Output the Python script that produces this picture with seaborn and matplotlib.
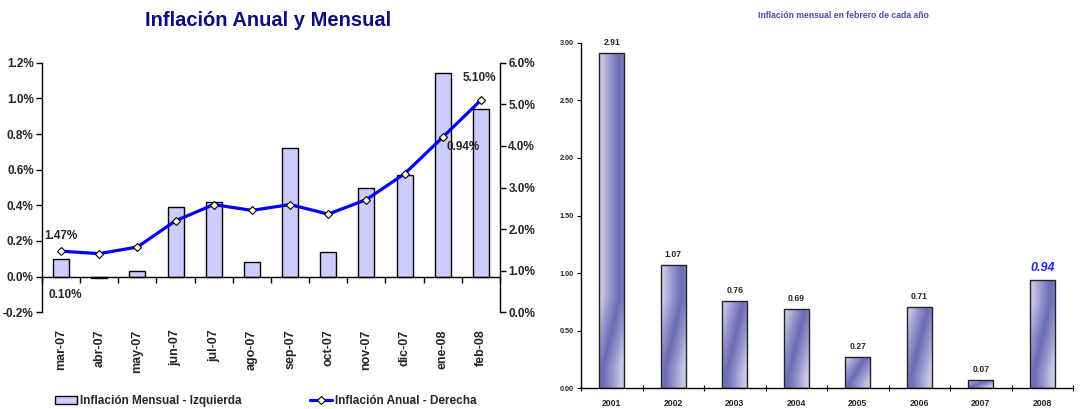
import numpy as np
import pandas as pd
import matplotlib
matplotlib.use("Agg")
import matplotlib.pyplot as plt
from matplotlib import font_manager
from matplotlib.colors import LinearSegmentedColormap
from matplotlib.lines import Line2D
from matplotlib.patches import Patch
import seaborn as sns

# ---------------- data ----------------
months = ["mar-07", "abr-07", "may-07", "jun-07", "jul-07", "ago-07",
          "sep-07", "oct-07", "nov-07", "dic-07", "ene-08", "feb-08"]
mensual = [0.10, -0.01, 0.03, 0.39, 0.42, 0.08, 0.72, 0.14, 0.50, 0.57, 1.14, 0.94]
anual = [1.47, 1.41, 1.57, 2.20, 2.59, 2.45, 2.59, 2.36, 2.71, 3.33, 4.21, 5.10]

years = ["2001", "2002", "2003", "2004", "2005", "2006", "2007", "2008"]
feb_values = [2.91, 1.07, 0.76, 0.69, 0.27, 0.71, 0.07, 0.94]

left_yticks = [-0.2, 0.0, 0.2, 0.4, 0.6, 0.8, 1.0, 1.2]
right_yticks = [0.0, 1.0, 2.0, 3.0, 4.0, 5.0, 6.0]
feb_yticks = [0.0, 0.5, 1.0, 1.5, 2.0, 2.5, 3.0]

title_left = "Inflación Anual y Mensual"
title_right = "Inflación mensual en febrero de cada año"
legend_bar = "Inflación Mensual - Izquierda"
legend_line = "Inflación Anual - Derecha"

# ---------------- style ----------------
sns.set_theme(style="white")
available = {f.name for f in font_manager.fontManager.ttflist}
fam = "Liberation Sans Narrow" if "Liberation Sans Narrow" in available else "Liberation Sans"
plt.rcParams["font.family"] = [fam, "DejaVu Sans"]
plt.rcParams["font.weight"] = "bold"
plt.rcParams["axes.unicode_minus"] = False

FS = 8.5
W, H = 1082, 409
fig = plt.figure(figsize=(W / 100, H / 100), dpi=100)

# ---------------- left chart ----------------
ax = fig.add_axes([0.0388, 0.2364, 0.4233, 0.6103])
df = pd.DataFrame({"mes": months, "mensual": mensual, "anual": anual})
sns.barplot(data=df, x="mes", y="mensual", ax=ax, color="#CCCCFF",
            saturation=1, edgecolor="black", linewidth=1.0, width=0.42, zorder=2)
ax.set_xlim(-0.5, len(months) - 0.5)
ax.set_ylim(left_yticks[0], left_yticks[-1])
ax.set_yticks(left_yticks)
ax.set_yticklabels([f"{v:.1f}%" for v in left_yticks], fontsize=FS, fontweight="bold")
ax.set_xlabel("")
ax.set_ylabel("")
for s in ["top", "right"]:
    ax.spines[s].set_visible(False)
ax.spines["left"].set_color("black")
ax.spines["left"].set_linewidth(1.0)
ax.spines["bottom"].set_position(("data", 0))
ax.spines["bottom"].set_color("black")
ax.spines["bottom"].set_linewidth(1.0)
ax.tick_params(axis="y", which="major", direction="out", length=4, width=1, color="black", pad=2, left=True)
ax.set_xticks(np.arange(len(months)))
ax.set_xticklabels(months, rotation=90, fontsize=9, fontweight="bold")
ax.tick_params(axis="x", which="major", length=0, pad=38)
ax.set_xticks(np.arange(len(months) + 1) - 0.5, minor=True)
ax.tick_params(axis="x", which="minor", direction="out", length=4, width=1, color="black", bottom=True)

ax2 = ax.twinx()
sns.lineplot(x=np.arange(len(months)), y=anual, ax=ax2, color="#0000FF", linewidth=2.3,
             marker="D", markersize=4, markerfacecolor="#FFFFE0", markeredgecolor="black",
             markeredgewidth=0.8, zorder=3)
ax2.set_xlim(-0.5, len(months) - 0.5)
ax2.set_ylim(right_yticks[0], right_yticks[-1])
ax2.set_yticks(right_yticks)
ax2.set_yticklabels([f"{v:.1f}%" for v in right_yticks], fontsize=FS, fontweight="bold")
for s in ["top", "left", "bottom"]:
    ax2.spines[s].set_visible(False)
ax2.spines["right"].set_color("black")
ax2.spines["right"].set_linewidth(1.0)
ax2.tick_params(axis="y", direction="out", length=4, width=1, color="black", pad=2, right=True)
ax2.set_ylabel("")

ax2.annotate(f"{anual[0]:.2f}%", (0, anual[0]), xytext=(0, 11), textcoords="offset points",
             ha="center", va="center", fontsize=FS, fontweight="bold")
ax2.annotate(f"{anual[-1]:.2f}%", (len(anual) - 1, anual[-1]), xytext=(-1, 16), textcoords="offset points",
             ha="center", va="center", fontsize=FS, fontweight="bold")
ax.annotate(f"{mensual[0]:.2f}%", (0, 0), xytext=(3, -13), textcoords="offset points",
            ha="center", va="center", fontsize=FS, fontweight="bold")
ax.annotate(f"{mensual[-1]:.2f}%", (len(mensual) - 1, mensual[-1]), xytext=(-13, -27), textcoords="offset points",
            ha="center", va="center", fontsize=FS, fontweight="bold", zorder=5)

fig.text(268 / W, 1 - 20 / H, title_left, ha="center", va="center",
         fontsize=14.5, fontweight="bold", color="#0C0C80")

handles = [Patch(facecolor="#CCCCFF", edgecolor="black", linewidth=1.0),
           Line2D([0], [0], color="#0000FF", linewidth=2.3, marker="D", markersize=4,
                  markerfacecolor="#FFFFE0", markeredgecolor="black", markeredgewidth=0.8)]
fig.legend(handles, [legend_bar, legend_line], loc="center left", bbox_to_anchor=(0.041, 0.02),
           ncol=2, frameon=False, columnspacing=5.8, handlelength=1.9,
           handletextpad=0.2, prop={"weight": "bold", "size": FS})

# ---------------- right chart ----------------
bx_rect = [0.537, 0.0506, 0.4547, 0.845]
bx = fig.add_axes(bx_rect)
df2 = pd.DataFrame({"anio": years, "valor": feb_values})
sns.barplot(data=df2, x="anio", y="valor", ax=bx, color="#8A8AC6", saturation=1,
            edgecolor="#222222", linewidth=1.0, width=0.41, zorder=2)

ymax = feb_yticks[-1]
px_per_unit = bx_rect[3] * H / (ymax - feb_yticks[0])
cmap = LinearSegmentedColormap.from_list("grad", ["#6C6CB4", "#9494CC", "#C8C8E6"])
u = np.linspace(0, 1, 60)[None, :]
for p in list(bx.patches):
    x0, y0 = p.get_x(), p.get_y()
    w, h = p.get_width(), p.get_height()
    h_px = max(h * px_per_unit, 1.0)
    d = np.linspace(0, h_px, 300)[:, None]
    s0 = min(20.0, 0.15 * h_px)
    L = min(70.0, 0.8 * h_px)
    center = 0.15 + 0.65 * np.clip((d - s0) / L, 0, 1)
    tval = np.clip(np.abs(u - center) / 0.7, 0, 1)
    im = bx.imshow(tval, extent=[x0, x0 + w, y0, y0 + h], origin="lower", aspect="auto",
                   cmap=cmap, vmin=0, vmax=1, zorder=2.5, interpolation="bilinear")
    im.set_clip_path(p)
    p.set_facecolor("none")
    p.set_zorder(3)

bx.set_xlim(-0.5, len(years) - 0.5)
bx.set_ylim(feb_yticks[0], feb_yticks[-1])
bx.set_yticks(feb_yticks)
bx.set_yticklabels([f"{v:.2f}" for v in feb_yticks], fontsize=5.2, fontweight="bold")
bx.set_xticks(np.arange(len(years)))
bx.set_xticklabels(years, fontsize=6.2, fontweight="bold")
bx.set_xticks(np.arange(len(years) + 1) - 0.5, minor=True)
bx.tick_params(axis="x", which="major", direction="in", length=3, width=0.8, color="black", pad=8, bottom=True)
bx.tick_params(axis="x", which="minor", direction="inout", length=4, width=0.8, color="black", bottom=True)
bx.tick_params(axis="y", direction="out", length=3, width=0.8, color="black", pad=2, left=True)
bx.set_xlabel("")
bx.set_ylabel("")
for s in ["top", "right"]:
    bx.spines[s].set_visible(False)
for s in ["left", "bottom"]:
    bx.spines[s].set_color("black")
    bx.spines[s].set_linewidth(1.0)

for i, val in enumerate(feb_values):
    if i == len(feb_values) - 1:
        bx.annotate(f"{val:.2f}", (i, val), xytext=(0, 9), textcoords="offset points",
                    ha="center", va="center", fontsize=9, fontweight="bold",
                    fontstyle="italic", color="#2222EE")
    else:
        bx.annotate(f"{val:.2f}", (i, val), xytext=(0, 7.5), textcoords="offset points",
                    ha="center", va="center", fontsize=6.2, fontweight="bold")

fig.text(843 / W, 1 - 16 / H, title_right, ha="center", va="center",
         fontsize=6.2, fontweight="bold", color="#4A4AAE")

fig.savefig("out.png", dpi=100)
